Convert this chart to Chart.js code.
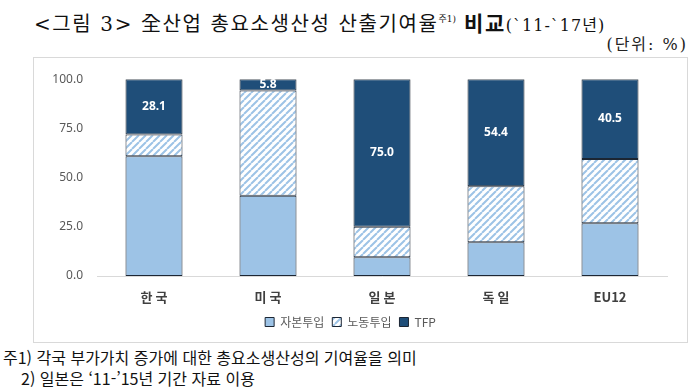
<!DOCTYPE html>
<html lang="ko">
<head>
<meta charset="utf-8">
<script src="https://cdn.jsdelivr.net/npm/chart.js@4/dist/chart.umd.min.js"></script>
<style>
  body { margin: 0; background: #fff; width: 699px; height: 392px; position: relative; overflow: hidden; font-family: "Noto Sans CJK KR", "Noto Sans", sans-serif; }
  .title { position: absolute; left: 34px; top: 7px; font-size: 20px; color: #111; white-space: nowrap; font-family: "DejaVu Serif", "Noto Sans CJK KR", serif; letter-spacing: 1.6px; }
  .title sup { font-size: 9px; vertical-align: 9px; letter-spacing: 0; }
  .title .big { font-weight: bold; font-size: 21px; }
  .title .small { font-size: 16px; letter-spacing: 1px; }
  .unit { position: absolute; right: 11px; top: 31px; font-size: 16px; color: #222; letter-spacing: 2px; font-family: "DejaVu Serif", "Noto Sans CJK KR", serif; }
  .frame { position: absolute; left: 33px; top: 57px; width: 653px; height: 284px; border: 1px solid #d9d9d9; }
  .note { position: absolute; font-size: 16px; color: #111; white-space: nowrap; }
</style>
</head>
<body>
<div class="title">&lt;그림 3&gt; 全산업 총요소생산성 산출기여율<sup>주1)</sup> <span class="big">비교</span><span class="small">(`11-`17년)</span></div>
<div class="unit">(단위: %)</div>
<div class="frame"><canvas id="chart"></canvas></div>
<div class="note" style="left:3px; top:345px;">주1) 각국 부가가치 증가에 대한 총요소생산성의 기여율을 의미</div>
<div class="note" style="left:21px; top:366px;">2) 일본은 ‘11-’15년 기간 자료 이용</div>
<script>
const categories = ['한 국', '미 국', '일 본', '독 일', 'EU12'];
const seriesNames = ['자본투입', '노동투입', 'TFP'];
const capitalInput = [60.9, 40.8, 9.5, 17.1, 26.8];
const laborInput = [11.0, 53.4, 15.5, 28.5, 32.7];
const tfpValues = [28.1, 5.8, 75.0, 54.4, 40.5];
const yTicks = [0, 25, 50, 75, 100];

// diagonal hatch for labor input
function makeHatch() {
  const size = 7;
  const c = document.createElement('canvas');
  c.width = size;
  c.height = size;
  const g = c.getContext('2d');
  g.fillStyle = '#ffffff';
  g.fillRect(0, 0, size, size);
  g.strokeStyle = '#9dc3e6';
  g.lineWidth = 2;
  g.beginPath();
  for (let k = -1; k <= 1; k++) {
    g.moveTo(k * size, size);
    g.lineTo(k * size + size, 0);
  }
  g.stroke();
  return g.createPattern(c, 'repeat');
}

const hatch = makeHatch();

// white value labels on the TFP segments
const tfpLabels = {
  id: 'tfpLabels',
  afterDatasetsDraw(chart) {
    const ctx = chart.ctx;
    const meta = chart.getDatasetMeta(2);
    ctx.save();
    ctx.fillStyle = '#ffffff';
    ctx.font = 'bold 12px "Noto Sans", sans-serif';
    ctx.textAlign = 'center';
    ctx.textBaseline = 'middle';
    meta.data.forEach((bar, i) => {
      const y = (bar.y + bar.base) / 2;
      ctx.fillText(tfpValues[i].toFixed(1), bar.x, y);
    });
    ctx.restore();
  }
};

const frame = document.querySelector('.frame');
const canvas = document.getElementById('chart');
canvas.style.width = frame.clientWidth + 'px';
canvas.style.height = frame.clientHeight + 'px';

new Chart(canvas, {
  type: 'bar',
  data: {
    labels: categories,
    datasets: [
      { label: seriesNames[0], data: capitalInput, backgroundColor: '#9dc3e6' },
      { label: seriesNames[1], data: laborInput, backgroundColor: hatch },
      { label: seriesNames[2], data: tfpValues, backgroundColor: '#1f4e79' }
    ]
  },
  options: {
    responsive: false,
    animation: false,
    datasets: {
      bar: {
        borderColor: '#1c2633',
        borderWidth: 1,
        borderSkipped: false,
        barPercentage: 0.5,
        categoryPercentage: 1.0
      }
    },
    layout: { padding: { top: 9, right: 20, left: 0, bottom: 4 } },
    plugins: {
      tooltip: { enabled: false },
      legend: {
        position: 'bottom',
        labels: {
          boxWidth: 9,
          boxHeight: 9,
          padding: 8,
          color: '#595959',
          font: { size: 12, family: '"Noto Sans CJK KR", sans-serif' },
          generateLabels(chart) {
            return chart.data.datasets.map((ds, i) => ({
              text: ds.label,
              fillStyle: ds.backgroundColor,
              strokeStyle: '#1c2633',
              lineWidth: 1,
              fontColor: '#595959',
              datasetIndex: i
            }));
          }
        }
      }
    },
    scales: {
      x: {
        stacked: true,
        afterFit(scale) { scale.height = 32; },
        grid: { display: false, drawTicks: false },
        border: { display: true, color: '#d9d9d9' },
        ticks: { color: '#404040', padding: 13, font: { size: 13, weight: 'bold', family: '"Noto Sans CJK KR", sans-serif' } }
      },
      y: {
        stacked: true,
        min: 0,
        max: 100,
        afterFit(scale) { scale.width = 63; },
        afterBuildTicks(scale) { scale.ticks = yTicks.map(v => ({ value: v })); },
        grid: { display: false, drawTicks: false },
        border: { display: false },
        ticks: {
          color: '#595959',
          padding: 14,
          font: { size: 12, family: '"Noto Sans", sans-serif' },
          callback: v => v.toFixed(1)
        }
      }
    }
  },
  plugins: [tfpLabels]
});
</script>
</body>
</html>
